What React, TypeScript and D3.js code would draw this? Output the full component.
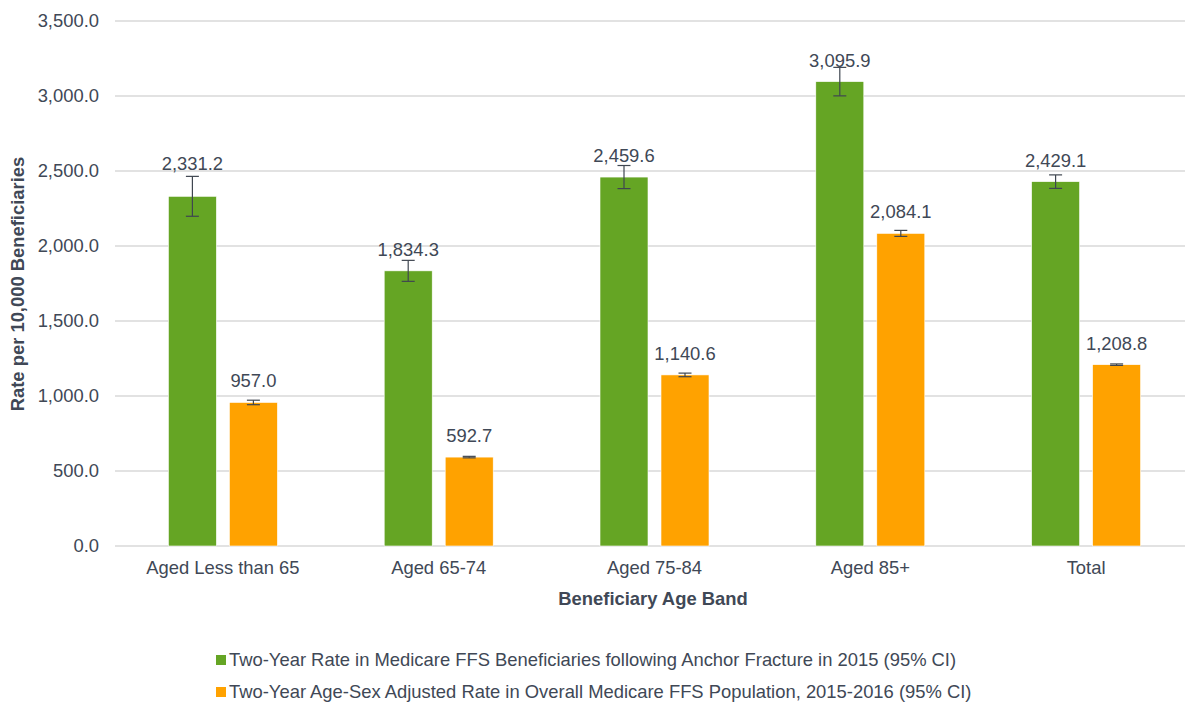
import React from "react";
import * as d3 from "d3";

const categories = ["Aged Less than 65", "Aged 65-74", "Aged 75-84", "Aged 85+", "Total"];
const fractureRate = [2331.2, 1834.3, 2459.6, 3095.9, 2429.1];
const fractureErr = [133, 70, 77, 95, 45];
const populationRate = [957.0, 592.7, 1140.6, 2084.1, 1208.8];
const populationErr = [15, 5, 12, 20, 5];
const yTicks = [0, 500, 1000, 1500, 2000, 2500, 3000, 3500];
const seriesNames = [
  "Two-Year Rate in Medicare FFS Beneficiaries following Anchor Fracture in 2015 (95% CI)",
  "Two-Year Age-Sex Adjusted Rate in Overall Medicare FFS Population, 2015-2016 (95% CI)",
];

const W = 1185;
const H = 706;
const GREEN = "#65a524";
const ORANGE = "#ffa200";
const TEXT = "#404856";
const FONT = "'Liberation Sans', Arial, sans-serif";
const FS = 18.4;

export default function App() {
  const left = 115;
  const groupW = 215.8;
  const x = d3
    .scaleBand<string>()
    .domain(categories)
    .range([left, left + groupW * categories.length])
    .paddingInner(0)
    .paddingOuter(0);
  const y = d3.scaleLinear().domain([0, 3500]).range([546, 21]);
  const barW = 48;
  const off = 30.5;
  const fmt = d3.format(",.1f");

  const series = [
    { vals: fractureRate, err: fractureErr, color: GREEN, dx: -off },
    { vals: populationRate, err: populationErr, color: ORANGE, dx: off },
  ];

  return (
    <svg width={W} height={H} style={{ position: "absolute", left: 0, top: 0, background: "#fff" }} fontFamily={FONT}>
      {yTicks.map((t) => (
        <g key={t}>
          <line x1={left} x2={W} y1={y(t)} y2={y(t)} stroke="#d9d9d9" strokeWidth={1.5} />
          <text x={99} y={y(t)} dy="0.35em" textAnchor="end" fontSize={FS} fill={TEXT}>
            {fmt(t)}
          </text>
        </g>
      ))}
      {series.map((s, si) =>
        categories.map((c, i) => {
          const cx = (x(c) as number) + x.bandwidth() / 2 + s.dx;
          const v = s.vals[i];
          const top = y(v);
          const e1 = y(v + s.err[i]);
          const e2 = y(v - s.err[i]);
          const nudge = si === 0 && i === 0 ? 11 : 0;
          return (
            <g key={`${si}-${i}`}>
              <rect x={cx - barW / 2} y={top} width={barW} height={y(0) - top} fill={s.color} stroke="#ffffff" strokeWidth={0.6} />
              <line x1={cx} x2={cx} y1={e1} y2={e2} stroke="#3f4650" strokeWidth={1.2} />
              <line x1={cx - 6.5} x2={cx + 6.5} y1={e1} y2={e1} stroke="#3f4650" strokeWidth={1.2} />
              <line x1={cx - 6.5} x2={cx + 6.5} y1={e2} y2={e2} stroke="#3f4650" strokeWidth={1.2} />
              <text x={cx} y={top - 15 - nudge} textAnchor="middle" fontSize={FS} fill={TEXT}>
                {fmt(v)}
              </text>
            </g>
          );
        })
      )}
      {categories.map((c) => (
        <text key={c} x={(x(c) as number) + x.bandwidth() / 2} y={568} dy="0.35em" textAnchor="middle" fontSize={FS} fill={TEXT}>
          {c}
        </text>
      ))}
      <text x={653} y={599} dy="0.35em" textAnchor="middle" fontSize={FS} fontWeight="bold" fill={TEXT}>
        Beneficiary Age Band
      </text>
      <text transform={`translate(18, 284) rotate(-90)`} dy="0.35em" textAnchor="middle" fontSize={FS} fontWeight="bold" fill={TEXT}>
        Rate per 10,000 Beneficiaries
      </text>
      {seriesNames.map((n, i) => (
        <g key={n} transform={`translate(216, ${660 + i * 32})`}>
          <rect x={0} y={-5} width={10} height={10} fill={i === 0 ? GREEN : ORANGE} />
          <text x={13} y={0} dy="0.35em" fontSize={FS} fill={TEXT}>
            {n}
          </text>
        </g>
      ))}
    </svg>
  );
}
